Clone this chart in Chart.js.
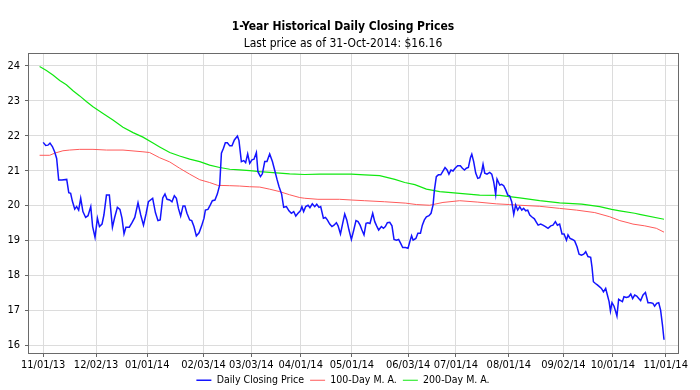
<!DOCTYPE html>
<html>
<head>
<meta charset="utf-8">
<script src="https://cdn.jsdelivr.net/npm/chart.js@4.4.1/dist/chart.umd.min.js"></script>
<style>
html,body{margin:0;padding:0;background:#fff;}
#wrap{width:700px;height:390px;}
</style>
</head>
<body>
<div id="wrap"><canvas id="c" width="700" height="390"></canvas></div>
<script>
// ---- Data (x = days since 2013-11-01) ----
const tickDays = [0,31,61,94,122,151,181,214,242,273,305,334,365];
const tickLabels = ['11/01/13','12/02/13','01/01/14','02/03/14','03/03/14','04/01/14','05/01/14','06/03/14','07/01/14','08/01/14','09/02/14','10/01/14','11/01/14'];
const yTicks = [16,17,18,19,20,21,22,23,24];

const closeDays = [
0,1.5,2.8,4.0,5.4,6.7,7.9,9.1,11.0,13.8,
15.0,16.1,17.1,18.5,19.6,20.8,22.0,23.3,24.9,26.3,
27.9,29.0,30.4,31.8,33.0,34.5,35.6,37.1,38.8,40.6,
41.9,43.5,45.0,46.2,47.4,48.5,50.5,52.1,53.7,55.6,
57.2,58.8,60.3,61.7,64.2,65.8,67.3,68.6,70.1,71.4,
72.6,74.2,75.5,76.9,78.1,79.3,80.6,82.0,83.1,84.3,
85.9,87.1,88.4,89.8,91.4,92.9,94.3,95.1,96.6,98.0,
99.2,100.7,102.1,103.5,104.5,105.7,106.8,108.0,109.4,110.7,
112.1,113.9,114.8,116.2,117.6,118.7,119.9,121.1,122.4,123.6,
125.0,125.9,127.4,128.5,129.9,131.2,132.8,134.4,135.7,137.1,
138.3,139.8,141.0,142.6,144.1,145.5,146.9,148.1,149.4,150.8,
151.7,152.7,153.9,155.3,156.4,157.8,159.2,160.4,161.7,162.7,
164.3,165.5,166.6,168.0,169.3,170.5,171.9,172.9,174.3,175.6,
176.8,178.0,179.3,180.7,182.1,183.4,184.6,185.8,186.9,188.1,
189.3,190.4,191.6,193.2,194.4,195.5,196.7,198.3,199.5,200.6,
201.8,203.2,204.5,205.7,207.1,208.4,209.6,210.8,212.4,213.9,
215.1,216.0,216.9,218.5,219.7,221.2,222.3,223.5,224.7,226.2,
227.4,228.6,229.4,230.5,231.7,233.1,234.4,235.6,236.8,237.9,
239.1,240.3,241.5,243.0,244.6,245.8,247.0,248.1,249.3,250.5,
251.3,252.4,253.6,254.8,255.9,257.1,257.9,258.9,260.2,261.8,
263.0,264.1,265.3,266.1,267.7,268.8,270.0,271.2,272.4,273.5,
274.7,275.9,277.0,278.2,279.4,280.6,281.7,282.9,284.1,285.3,
286.4,288.0,289.2,290.2,291.7,293.0,294.5,296.0,297.6,298.9,
300.3,301.5,302.8,304.2,305.4,306.8,307.7,308.9,310.3,311.6,
313.0,314.2,315.6,316.9,318.1,319.4,321.0,321.8,322.6,323.8,
324.9,326.1,327.3,328.5,329.8,330.8,331.8,332.6,333.5,334.7,
335.7,336.4,337.4,338.6,339.6,340.5,341.9,343.3,344.5,345.6,
346.8,348.0,349.2,350.3,351.7,353.1,354.6,356.2,357.5,358.5,
359.7,360.9,362.0,363.1,364.0
];
const closeValues = [
21.81,21.72,21.73,21.79,21.69,21.54,21.35,20.73,20.73,20.75,
20.37,20.35,20.13,19.90,19.97,19.87,20.21,19.83,19.66,19.71,
19.97,19.40,19.09,19.64,19.40,19.47,19.73,20.30,20.30,19.38,
19.66,19.95,19.89,19.64,19.19,19.38,19.38,19.51,19.66,20.08,
19.73,19.44,19.76,20.11,20.21,19.80,19.57,19.59,20.22,20.33,
20.18,20.16,20.11,20.28,20.21,19.92,19.70,19.99,19.99,19.78,
19.59,19.57,19.40,19.13,19.22,19.42,19.64,19.87,19.89,20.02,
20.14,20.16,20.33,20.59,21.50,21.64,21.80,21.80,21.71,21.71,
21.88,21.99,21.86,21.26,21.29,21.23,21.48,21.21,21.31,21.33,
21.52,20.97,20.83,20.91,21.26,21.26,21.48,21.26,21.02,20.75,
20.54,20.33,19.95,19.97,19.85,19.78,19.83,19.70,19.78,19.85,
19.97,19.83,19.97,20.01,19.94,20.05,19.97,20.04,19.95,19.97,
19.64,19.66,19.59,19.47,19.40,19.44,19.51,19.42,19.19,19.49,
19.76,19.59,19.30,19.03,19.30,19.57,19.54,19.44,19.30,19.16,
19.49,19.51,19.49,19.78,19.54,19.42,19.30,19.40,19.35,19.40,
19.51,19.52,19.42,19.03,19.01,19.03,18.92,18.80,18.80,18.78,
18.99,19.14,19.01,19.06,19.21,19.21,19.44,19.59,19.68,19.71,
19.78,20.02,20.45,20.83,20.88,20.88,20.99,21.09,21.02,20.90,
21.02,20.99,21.07,21.14,21.14,21.07,21.02,21.07,21.09,21.37,
21.47,21.26,20.93,20.78,20.80,20.97,21.18,20.93,20.90,20.95,
20.90,20.69,20.32,20.76,20.59,20.61,20.57,20.45,20.30,20.28,
20.11,19.75,20.02,19.87,19.97,19.87,19.92,19.85,19.87,19.73,
19.68,19.62,19.52,19.44,19.47,19.44,19.40,19.35,19.42,19.44,
19.54,19.44,19.47,19.19,19.19,19.01,19.16,19.06,19.03,18.99,
18.82,18.61,18.58,18.61,18.68,18.54,18.52,18.23,17.82,17.77,
17.73,17.68,17.63,17.53,17.63,17.44,17.25,16.98,17.22,17.12,
16.96,16.84,17.32,17.28,17.25,17.39,17.37,17.39,17.47,17.34,
17.44,17.41,17.34,17.28,17.44,17.51,17.22,17.22,17.20,17.12,
17.20,17.22,17.01,16.58,16.16
];

const ma100Days = [-2.1,3.8,6.7,11.6,15.5,21.4,29.2,37.1,46.8,58.5,62.4,68.3,74.2,80.0,85.9,91.8,97.6,102.3,109.4,115.2,121.1,127.0,132.8,138.7,144.5,150.4,153.3,161.1,173.8,180.7,188.5,200.2,212.6,218.8,226.6,234.4,244.2,254.8,265.7,273.5,279.4,291.1,302.8,312.8,323.4,332.2,338.1,342.9,345.8,352.7,359.5,364.0];
const ma100Values = [21.44,21.44,21.50,21.57,21.59,21.61,21.61,21.59,21.59,21.54,21.52,21.37,21.25,21.07,20.90,20.74,20.66,20.58,20.57,20.56,20.54,20.53,20.47,20.40,20.31,20.23,20.21,20.18,20.18,20.16,20.14,20.11,20.07,20.03,20.01,20.09,20.14,20.10,20.05,20.03,20.01,19.98,19.92,19.87,19.80,19.68,19.57,19.51,19.47,19.42,19.35,19.24];

const ma200Days = [-2.1,1.9,5.7,9.7,13.6,17.5,21.4,25.3,29.2,35.1,40.9,46.8,52.7,58.5,64.4,68.3,74.2,80.0,85.9,91.8,97.6,103.5,109.4,115.2,121.1,127.0,132.8,138.7,144.5,153.3,162.1,180.7,188.5,197.3,206.2,212.0,217.9,224.7,232.5,244.2,255.9,267.7,279.4,291.1,302.8,315.7,326.3,333.3,338.1,346.8,349.7,364.0];
const ma200Values = [23.98,23.87,23.74,23.58,23.46,23.29,23.14,22.98,22.83,22.64,22.45,22.24,22.09,21.96,21.79,21.68,21.52,21.42,21.33,21.26,21.16,21.09,21.04,21.02,21.00,20.97,20.95,20.93,20.91,20.89,20.90,20.90,20.88,20.86,20.75,20.66,20.60,20.47,20.40,20.35,20.30,20.29,20.22,20.14,20.08,20.04,19.97,19.89,19.85,19.78,19.75,19.61];

// ---- Chart ----
const FONT = "'DejaVu Sans Condensed', 'DejaVu Sans', sans-serif";
Chart.defaults.font.family = FONT;
Chart.defaults.color = '#000';

const toPts = (xs, ys) => {
  const n = Math.min(xs.length, ys.length);
  const out = [];
  for (let i = 0; i < n; i++) out.push({x: xs[i], y: ys[i]});
  return out;
};

const framePlugin = {
  id: 'frame',
  afterDraw(chart) {
    const {ctx, chartArea: a} = chart;
    ctx.save();
    ctx.strokeStyle = '#6a6a6a';
    ctx.lineWidth = 1;
    const l = Math.round(a.left) + 0.5, t = Math.round(a.top) + 0.5;
    const r = Math.round(a.right) + 0.5, b = Math.round(a.bottom) + 0.5;
    ctx.strokeRect(l, t, r - l, b - t);
    ctx.restore();
  }
};

new Chart(document.getElementById('c'), {
  type: 'line',
  data: {
    datasets: [
      {label: 'Daily Closing Price', data: toPts(closeDays, closeValues), borderColor: '#1414ff', borderWidth: 1.5},
      {label: '100-Day M. A.', data: toPts(ma100Days, ma100Values), borderColor: '#ff5a5a', borderWidth: 1},
      {label: '200-Day M. A.', data: toPts(ma200Days, ma200Values), borderColor: '#10e810', borderWidth: 1.2}
    ]
  },
  options: {
    responsive: false,
    animation: false,
    devicePixelRatio: 1,
    parsing: false,
    elements: {point: {radius: 0}, line: {tension: 0}},
    layout: {padding: {top: 14, right: 22, bottom: -5.5, left: 8}},
    scales: {
      x: {
        type: 'linear',
        min: -8.9, max: 372.2,
        afterBuildTicks: s => { s.ticks = tickDays.map(v => ({value: v})); },
        afterFit: s => { s.height = 16; s.paddingLeft = 0; s.paddingRight = 0; },
        ticks: {
          autoSkip: false, maxRotation: 0, padding: 2,
          font: {size: 11, family: FONT}, color: '#000',
          callback: (v, i) => tickLabels[i]
        },
        grid: {color: '#dcdcdc', lineWidth: 1, tickLength: 4, tickColor: '#666'},
        border: {display: false}
      },
      y: {
        type: 'linear',
        min: 15.78, max: 24.36,
        afterBuildTicks: s => { s.ticks = yTicks.map(v => ({value: v})); },
        afterFit: s => { s.width = 20; s.paddingTop = 0; s.paddingBottom = 0; },
        ticks: {
          padding: 5,
          font: {size: 11, family: FONT}, color: '#000',
          callback: v => String(v)
        },
        grid: {color: '#dcdcdc', lineWidth: 1, tickLength: 3, tickColor: '#666'},
        border: {display: false}
      }
    },
    plugins: {
      title: {
        display: true,
        text: '1-Year Historical Daily Closing Prices',
        font: {size: 12, weight: 'bold', family: FONT},
        color: '#000',
        padding: {top: 6, bottom: 1}
      },
      subtitle: {
        display: true,
        text: 'Last price as of 31-Oct-2014: $16.16',
        font: {size: 12, family: FONT},
        color: '#000',
        padding: {top: 1, bottom: 2.5}
      },
      legend: {
        position: 'bottom',
        labels: {
          usePointStyle: true, pointStyle: 'line', pointStyleWidth: 15,
          font: {size: 10.5, family: FONT}, color: '#000', padding: 6
        }
      },
      tooltip: {enabled: false}
    }
  },
  plugins: [framePlugin]
});
</script>
</body>
</html>
